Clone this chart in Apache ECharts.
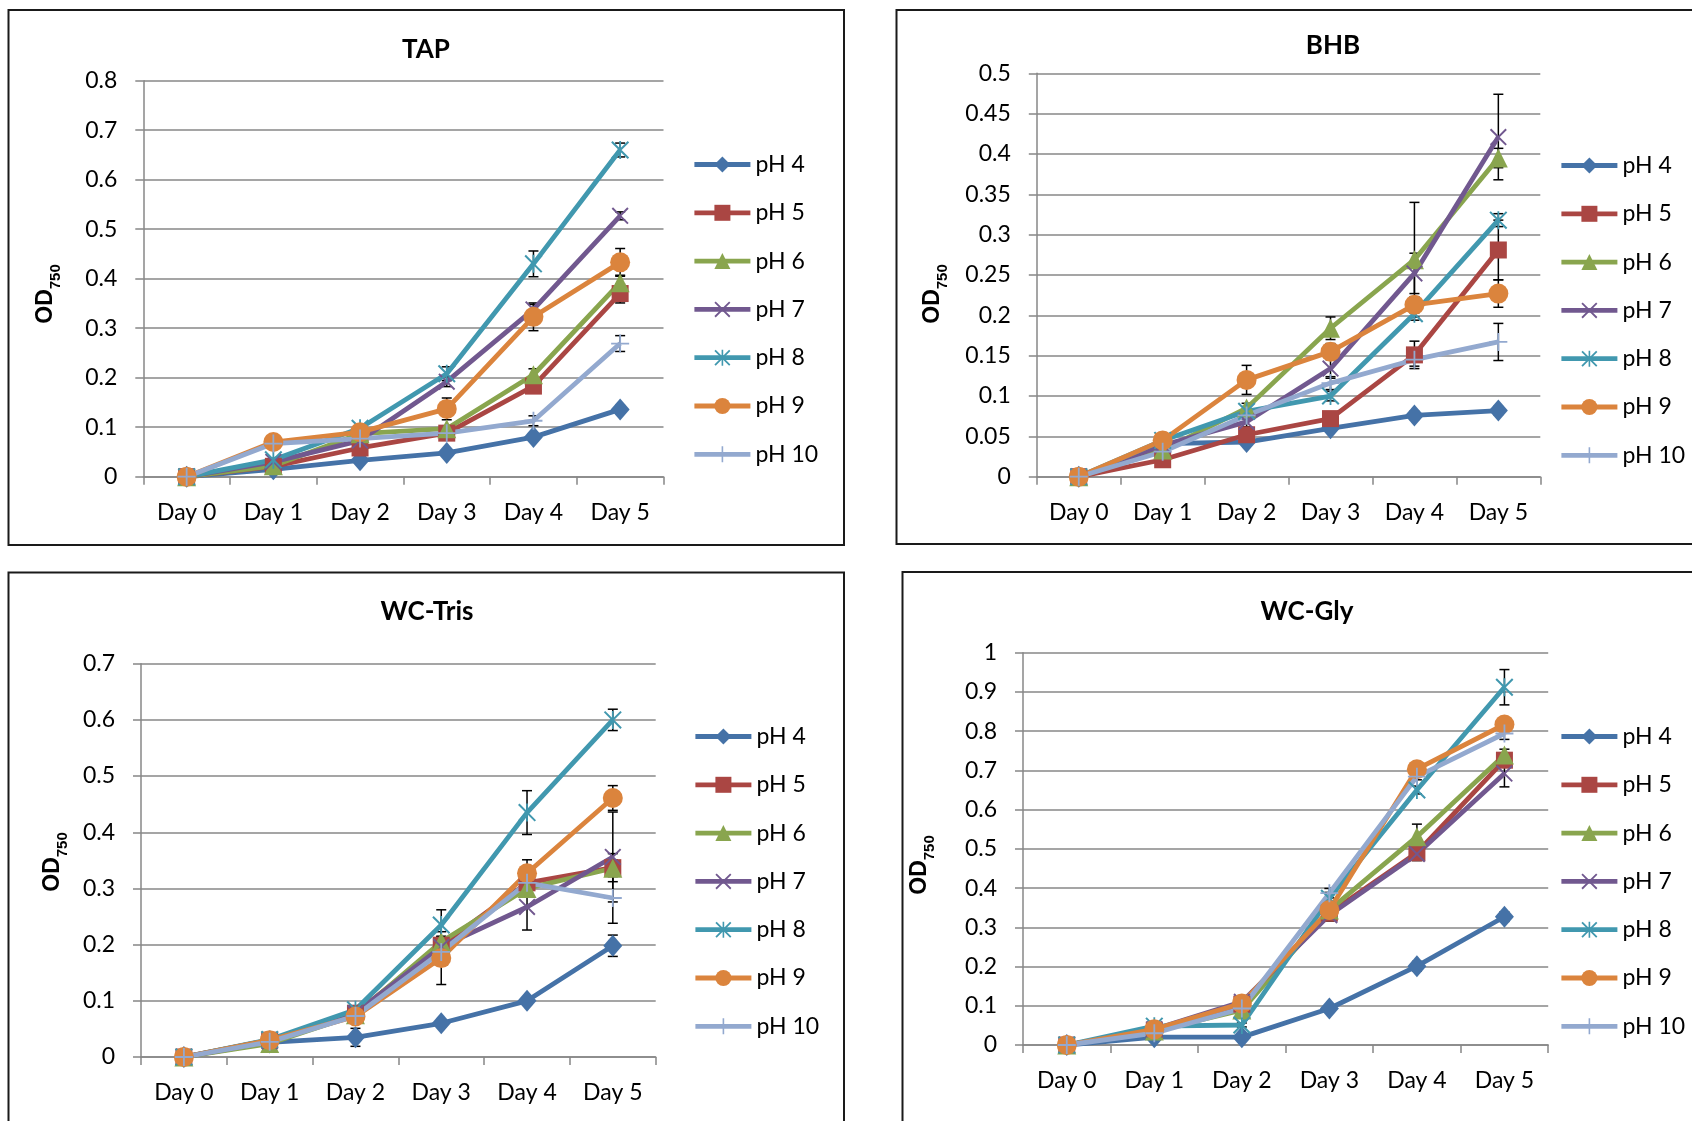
<!DOCTYPE html>
<html>
<head>
<meta charset="utf-8">
<title>OD750 growth by pH</title>
<script src="https://cdn.jsdelivr.net/npm/echarts@6/dist/echarts.min.js"></script>
<style>
  html, body { margin: 0; padding: 0; background: #ffffff; }
  #chart { width: 1692px; height: 1121px; }
</style>
</head>
<body>
<div id="chart"></div>
<script>
// Categories and series names
const DAYS = ['Day 0', 'Day 1', 'Day 2', 'Day 3', 'Day 4', 'Day 5'];
const PH_LABELS = ['pH 4', 'pH 5', 'pH 6', 'pH 7', 'pH 8', 'pH 9', 'pH 10'];

// OD750 means, one row per pH (pH 4 ... pH 10), one column per day
const TAP_MEANS = [
  [0, 0.015, 0.033, 0.048, 0.080, 0.136],
  [0, 0.021, 0.058, 0.088, 0.183, 0.370],
  [0, 0.022, 0.087, 0.097, 0.206, 0.392],
  [0, 0.030, 0.073, 0.192, 0.338, 0.527],
  [0, 0.034, 0.098, 0.208, 0.430, 0.660],
  [0, 0.070, 0.090, 0.137, 0.323, 0.433],
  [0, 0.067, 0.077, 0.088, 0.113, 0.269]
];
// Standard deviations, same layout
const TAP_ERRORS = [
  [0, 0, 0.004, 0.004, 0.006, 0.008],
  [0, 0, 0.006, 0.008, 0.012, 0.019],
  [0, 0, 0.006, 0.006, 0.012, 0.015],
  [0, 0, 0.006, 0.010, 0.010, 0.008],
  [0, 0, 0.005, 0.014, 0.026, 0.014],
  [0, 0, 0.006, 0.022, 0.028, 0.028],
  [0, 0, 0.004, 0.005, 0.010, 0.016]
];

const BHB_MEANS = [
  [0, 0.041, 0.043, 0.060, 0.076, 0.082],
  [0, 0.021, 0.052, 0.072, 0.151, 0.281],
  [0, 0.033, 0.085, 0.184, 0.269, 0.395],
  [0, 0.039, 0.068, 0.134, 0.252, 0.421],
  [0, 0.045, 0.081, 0.100, 0.202, 0.318],
  [0, 0.045, 0.120, 0.155, 0.213, 0.227],
  [0, 0.031, 0.076, 0.116, 0.145, 0.167]
];
const BHB_ERRORS = [
  [0, 0, 0.004, 0.004, 0.005, 0.005],
  [0, 0, 0.005, 0.006, 0.017, 0.037],
  [0, 0, 0.006, 0.014, 0.071, 0.012],
  [0, 0, 0.006, 0.012, 0.025, 0.053],
  [0, 0, 0.006, 0.006, 0.008, 0.008],
  [0, 0, 0.018, 0.010, 0.010, 0.017],
  [0, 0, 0.005, 0.008, 0.008, 0.023]
];

const TRIS_MEANS = [
  [0, 0.026, 0.035, 0.060, 0.100, 0.198],
  [0, 0.030, 0.078, 0.199, 0.310, 0.337],
  [0, 0.024, 0.075, 0.205, 0.300, 0.336],
  [0, 0.028, 0.078, 0.196, 0.267, 0.356],
  [0, 0.031, 0.084, 0.235, 0.435, 0.600],
  [0, 0.030, 0.072, 0.176, 0.327, 0.461],
  [0, 0.027, 0.073, 0.187, 0.310, 0.283]
];
const TRIS_ERRORS = [
  [0, 0, 0.016, 0.006, 0.006, 0.019],
  [0, 0, 0.010, 0.015, 0.015, 0.025],
  [0, 0, 0.008, 0.010, 0.015, 0.015],
  [0, 0, 0.008, 0.012, 0.041, 0.080],
  [0, 0, 0.006, 0.027, 0.039, 0.019],
  [0, 0, 0.008, 0.047, 0.024, 0.022],
  [0, 0, 0.008, 0.012, 0.015, 0.045]
];

const GLY_MEANS = [
  [0, 0.020, 0.020, 0.093, 0.201, 0.327],
  [0, 0.038, 0.104, 0.336, 0.490, 0.726],
  [0, 0.036, 0.089, 0.344, 0.531, 0.739],
  [0, 0.040, 0.110, 0.331, 0.487, 0.692],
  [0, 0.048, 0.051, 0.374, 0.650, 0.912],
  [0, 0.040, 0.106, 0.344, 0.703, 0.817],
  [0, 0.030, 0.093, 0.387, 0.684, 0.794]
];
const GLY_ERRORS = [
  [0, 0, 0.005, 0.006, 0.012, 0.012],
  [0, 0, 0.020, 0.012, 0.020, 0.015],
  [0, 0, 0.010, 0.012, 0.032, 0.015],
  [0, 0, 0.008, 0.015, 0.015, 0.034],
  [0, 0, 0.005, 0.015, 0.010, 0.045],
  [0, 0, 0.010, 0.012, 0.008, 0.010],
  [0, 0, 0.008, 0.012, 0.008, 0.015]
];

// Y-axis ranges per panel
const Y_MAX = [0.8, 0.5, 0.7, 1.0];
const Y_STEP = [0.1, 0.05, 0.1, 0.1];
const TITLES = ['TAP', 'BHB', 'WC-Tris', 'WC-Gly'];

// ---- styling ----
const FONT = 'Lato, "Open Sans", sans-serif';
const COLORS = ['#4572A7', '#AA4643', '#89A54E', '#71588F', '#4198AF', '#DB843D', '#93A9CF'];
const GRID_GRAY = '#878787';

// Stroke-like markers as filled outlines (0..100 box)
const X_PATH = 'path://M0,8L8,0L100,92L92,100Z M92,0L100,8L8,100L0,92Z';
const STAR_PATH = 'path://M0,8L8,0L100,92L92,100Z M92,0L100,8L8,100L0,92Z M45,0L55,0L55,100L45,100Z';
const PLUS_PATH = 'path://M45,0L55,0L55,100L45,100Z M0,45L100,45L100,55L0,55Z';
const SYMBOLS = ['diamond', 'rect', 'triangle', X_PATH, STAR_PATH, 'circle', PLUS_PATH];
const SYMBOL_SIZES = [[19, 22], 17, 19, 17, 18, 20, 18];

// Panel layout (pixels)
const LAYOUT = [
  { grid: { left: 143.3, top: 80.7, width: 520.2, height: 396 },
    box: [8.5, 10, 835.5, 535], title: [426, 50], legend: [692, 153], yName: [52, 294] },
  { grid: { left: 1036.8, top: 73.3, width: 503.5, height: 403.4 },
    box: [896.5, 10, 900, 534], title: [1333, 46], legend: [1559, 154], yName: [939, 294] },
  { grid: { left: 141, top: 663.7, width: 514.7, height: 393.3 },
    box: [8.5, 572.5, 835.5, 600], title: [427, 612], legend: [693, 725], yName: [59, 862] },
  { grid: { left: 1023, top: 652.7, width: 525.2, height: 392.3 },
    box: [902.5, 572, 900, 600], title: [1307, 612], legend: [1559, 725], yName: [926, 865] }
];

const PANEL_MEANS = [TAP_MEANS, BHB_MEANS, TRIS_MEANS, GLY_MEANS];
const PANEL_ERRORS = [TAP_ERRORS, BHB_ERRORS, TRIS_ERRORS, GLY_ERRORS];

// Vertical error bar with caps, positioned through the panel's own axes
function renderErrorBar(params, api) {
  const x = api.value(0);
  const hi = api.coord([x, api.value(2)]);
  const lo = api.coord([x, api.value(1)]);
  const half = 5;
  const style = { stroke: '#000', lineWidth: 1.5, fill: null };
  return {
    type: 'group',
    children: [
      { type: 'line', shape: { x1: hi[0], y1: hi[1], x2: lo[0], y2: lo[1] }, style },
      { type: 'line', shape: { x1: hi[0] - half, y1: hi[1], x2: hi[0] + half, y2: hi[1] }, style },
      { type: 'line', shape: { x1: lo[0] - half, y1: lo[1], x2: lo[0] + half, y2: lo[1] }, style }
    ]
  };
}

const axisLineStyle = { color: GRID_GRAY, width: 1.5 };
const grids = [], xAxes = [], yAxes = [], series = [], titles = [], legends = [], graphics = [];

LAYOUT.forEach((lay, p) => {
  grids.push(Object.assign({ containLabel: false }, lay.grid));

  xAxes.push({
    type: 'category', gridIndex: p, data: DAYS, boundaryGap: true,
    axisLine: { show: true, onZero: true, lineStyle: axisLineStyle },
    axisTick: { show: true, length: 8, inside: false, lineStyle: axisLineStyle },
    axisLabel: { show: true, margin: 24, fontFamily: FONT, fontSize: 23, color: '#000' },
    splitLine: { show: false }
  });

  yAxes.push({
    type: 'value', gridIndex: p, min: 0, max: Y_MAX[p], interval: Y_STEP[p],
    axisLine: { show: true, lineStyle: axisLineStyle },
    axisTick: { show: true, length: 8, inside: false, lineStyle: axisLineStyle },
    axisLabel: { show: true, margin: 26, fontFamily: FONT, fontSize: 23, color: '#000' },
    splitLine: { show: true, lineStyle: { color: GRID_GRAY, width: 1.5 } }
  });

  const means = PANEL_MEANS[p];
  const errs = PANEL_ERRORS[p];
  const bars = [];

  PH_LABELS.forEach((name, i) => {
    series.push({
      type: 'line', name, xAxisIndex: p, yAxisIndex: p,
      data: means[i],
      symbol: SYMBOLS[i], symbolSize: SYMBOL_SIZES[i], showAllSymbol: true,
      lineStyle: { width: 4.8, color: COLORS[i] },
      itemStyle: { color: COLORS[i] },
      emphasis: { disabled: true },
      z: 2
    });
    means[i].forEach((v, d) => {
      const e = errs[i][d];
      if (e > 0) bars.push([d, v - e, v + e]);
    });
  });

  series.push({
    type: 'custom', name: TITLES[p] + ' SD', xAxisIndex: p, yAxisIndex: p,
    renderItem: renderErrorBar, data: bars,
    encode: { x: 0, y: [1, 2] }, z: 1, silent: true
  });

  titles.push({
    text: TITLES[p], left: lay.title[0], top: lay.title[1],
    textAlign: 'center', textVerticalAlign: 'middle', padding: 0,
    textStyle: { fontFamily: FONT, fontWeight: 'bold', fontSize: 26, color: '#000' }
  });

  legends.push({
    data: PH_LABELS, orient: 'vertical', left: lay.legend[0], top: lay.legend[1],
    padding: 0, itemGap: 25.3, itemWidth: 56, itemHeight: 20, selectedMode: false,
    lineStyle: { width: 4.8 },
    textStyle: { fontFamily: FONT, fontSize: 23, color: '#000', padding: [0, 0, 0, 0] }
  });

  graphics.push({
    type: 'rect', silent: true,
    shape: { x: lay.box[0], y: lay.box[1], width: lay.box[2], height: lay.box[3] },
    style: { fill: 'transparent', stroke: '#1a1a1a', lineWidth: 2 }
  });

  graphics.push({
    type: 'text', silent: true, x: lay.yName[0], y: lay.yName[1], rotation: Math.PI / 2,
    style: {
      text: '{a|OD}{b|750}',
      align: 'center', verticalAlign: 'middle', fill: '#000',
      rich: {
        a: { fontFamily: '"Liberation Sans", Arial, sans-serif', fontWeight: 'bold', fontSize: 23, lineHeight: 23, padding: [0, 0, 6, 0], verticalAlign: 'bottom' },
        b: { fontFamily: '"Liberation Sans", Arial, sans-serif', fontWeight: 'bold', fontSize: 15, lineHeight: 15, padding: [14, 0, 0, 0], verticalAlign: 'bottom' }
      }
    }
  });
});

const chart = echarts.init(document.getElementById('chart'), null, { renderer: 'canvas' });
chart.setOption({
  backgroundColor: '#ffffff',
  animation: false,
  title: titles,
  legend: legends,
  grid: grids,
  xAxis: xAxes,
  yAxis: yAxes,
  series: series,
  graphic: graphics
});
</script>
</body>
</html>
